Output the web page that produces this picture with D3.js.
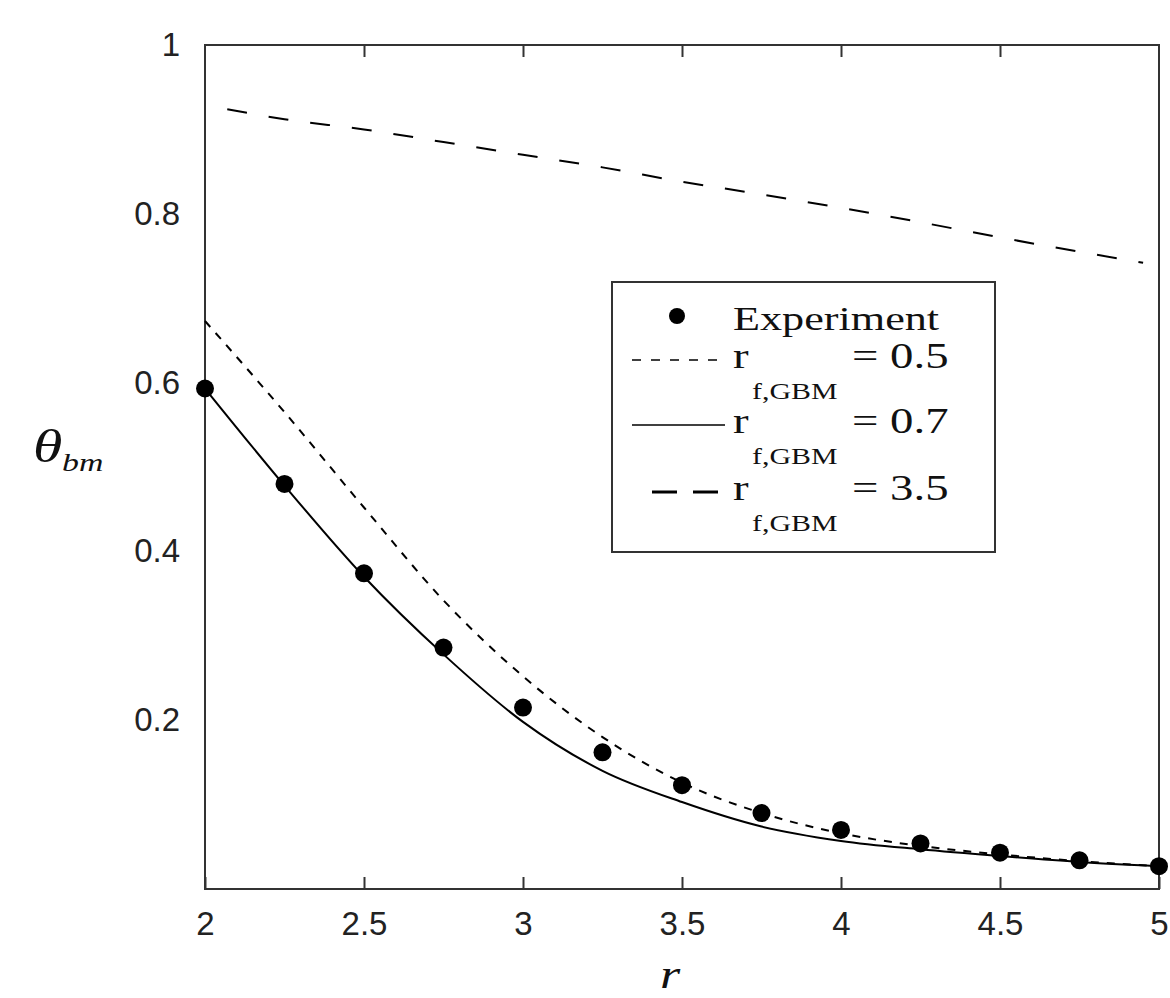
<!DOCTYPE html>
<html>
<head>
<meta charset="utf-8">
<script src="https://cdn.jsdelivr.net/npm/d3@7"></script>
<style>
  body { margin: 0; background: #fff; }
  .tick text { font-family: "Liberation Sans", Arial, sans-serif; font-size: 33px; fill: #222; }
</style>
</head>
<body>
<div id="chart"></div>
<script>
// experiment points
const rExp = [2, 2.25, 2.5, 2.75, 3, 3.25, 3.5, 3.75, 4, 4.25, 4.5, 4.75, 5];
const thetaExp = [0.593, 0.480, 0.374, 0.286, 0.215, 0.162, 0.123, 0.090, 0.070, 0.054, 0.043, 0.034, 0.027];

// model curves
const rModel = [2, 2.25, 2.5, 2.75, 3, 3.25, 3.5, 3.75, 4, 4.25, 4.5, 4.75, 5];
const theta05 = [0.673, 0.565, 0.452, 0.342, 0.252, 0.180, 0.126, 0.090, 0.066, 0.051, 0.041, 0.033, 0.027];
const theta07 = [0.593, 0.478, 0.370, 0.278, 0.198, 0.140, 0.103, 0.074, 0.057, 0.047, 0.039, 0.032, 0.027];
const r35 = [2.07, 2.25, 2.5, 2.75, 3, 3.25, 3.5, 3.75, 4, 4.25, 4.5, 4.75, 4.95];
const theta35 = [0.924, 0.912, 0.900, 0.885, 0.870, 0.855, 0.838, 0.823, 0.807, 0.790, 0.772, 0.755, 0.742];

const xTicks = [2, 2.5, 3, 3.5, 4, 4.5, 5];
const yTicks = [0.2, 0.4, 0.6, 0.8, 1];

const legendLabels = ["0.5", "0.7", "3.5"];

const margin = {top: 45, right: 11, bottom: 109, left: 205},
      width = 1170 - margin.left - margin.right,
      height = 998 - margin.top - margin.bottom;

const svgRoot = d3.select("#chart").append("svg")
    .attr("width", 1170)
    .attr("height", 998)
    .style("background", "#fff");

const svg = svgRoot.append("g")
    .attr("transform", `translate(${margin.left},${margin.top})`);

const x = d3.scaleLinear().domain([2, 5]).range([0, width]);
const y = d3.scaleLinear().domain([0, 1]).range([height, 0]);

// frame
svg.append("rect")
    .attr("width", width)
    .attr("height", height)
    .attr("fill", "none")
    .attr("stroke", "#333")
    .attr("stroke-width", 2);

// bottom axis, ticks pointing in
svg.append("g")
    .attr("transform", `translate(0,${height})`)
    .call(d3.axisBottom(x).tickValues(xTicks).tickSize(-12).tickPadding(23).tickFormat(d => String(d)))
    .call(g => g.select(".domain").remove())
    .call(g => g.selectAll("line").attr("stroke", "#333").attr("stroke-width", 2));

// top axis, ticks only
svg.append("g")
    .call(d3.axisTop(x).tickValues(xTicks.slice(1, -1)).tickSize(-12).tickFormat(""))
    .call(g => g.select(".domain").remove())
    .call(g => g.selectAll("line").attr("stroke", "#333").attr("stroke-width", 2));

// left axis, labels only
svg.append("g")
    .call(d3.axisLeft(y).tickValues(yTicks).tickSize(0).tickPadding(25).tickFormat(d => String(d)))
    .call(g => g.select(".domain").remove());

// helper for the stretched serif text of the original figure
function stretchText(parent, tx, ty, str, size, italic) {
    return parent.append("text")
        .attr("transform", `translate(${tx},${ty}) scale(1.3,1)`)
        .attr("font-family", "'Liberation Serif', 'Times New Roman', serif")
        .attr("font-size", size)
        .attr("font-style", italic ? "italic" : "normal")
        .attr("fill", "#111")
        .text(str);
}

// curves
const line = d3.line()
    .x(d => x(d[0]))
    .y(d => y(d[1]))
    .curve(d3.curveMonotoneX);

svg.append("path")
    .datum(r35.map((r, i) => [r, theta35[i]]))
    .attr("fill", "none")
    .attr("stroke", "#000")
    .attr("stroke-width", 2)
    .attr("stroke-dasharray", "20,22")
    .attr("d", line);

svg.append("path")
    .datum(rModel.map((r, i) => [r, theta05[i]]))
    .attr("fill", "none")
    .attr("stroke", "#000")
    .attr("stroke-width", 2)
    .attr("stroke-dasharray", "8,8")
    .attr("d", line);

svg.append("path")
    .datum(rModel.map((r, i) => [r, theta07[i]]))
    .attr("fill", "none")
    .attr("stroke", "#000")
    .attr("stroke-width", 2)
    .attr("d", line);

// experiment dots
svg.selectAll(".dot")
    .data(rExp.map((r, i) => [r, thetaExp[i]]))
    .join("circle")
    .attr("class", "dot")
    .attr("cx", d => x(d[0]))
    .attr("cy", d => y(d[1]))
    .attr("r", 9)
    .attr("fill", "#000");

// axis titles
stretchText(svgRoot, 33, 462, "\u03B8", 46, true);
stretchText(svgRoot, 62, 471, "bm", 26, true);
stretchText(svgRoot, 660, 988, "r", 40, true);

// legend
const legend = svgRoot.append("g");
legend.append("rect")
    .attr("x", 612).attr("y", 282)
    .attr("width", 383).attr("height", 270)
    .attr("fill", "#fff")
    .attr("stroke", "#333")
    .attr("stroke-width", 2);

legend.append("circle")
    .attr("cx", 677).attr("cy", 316).attr("r", 8).attr("fill", "#000");
stretchText(legend, 733, 330, "Experiment", 34, false);

const rowY = [368, 433, 500];
const dashes = ["9,10", null, "25,16"];
const lineX = [[632, 727], [632, 725], [652, 718]];
legendLabels.forEach((lab, i) => {
    legend.append("line")
        .attr("x1", lineX[i][0]).attr("x2", lineX[i][1])
        .attr("y1", rowY[i] - 8).attr("y2", rowY[i] - 8)
        .attr("stroke", "#000")
        .attr("stroke-width", i === 2 ? 3 : 1.5)
        .attr("stroke-dasharray", dashes[i]);
    stretchText(legend, 733, rowY[i], "r", 36, false);
    stretchText(legend, 752, rowY[i] + 31, "f,GBM", 23, false);
    stretchText(legend, 852, rowY[i], "= " + lab, 36, false);
});
</script>
</body>
</html>
